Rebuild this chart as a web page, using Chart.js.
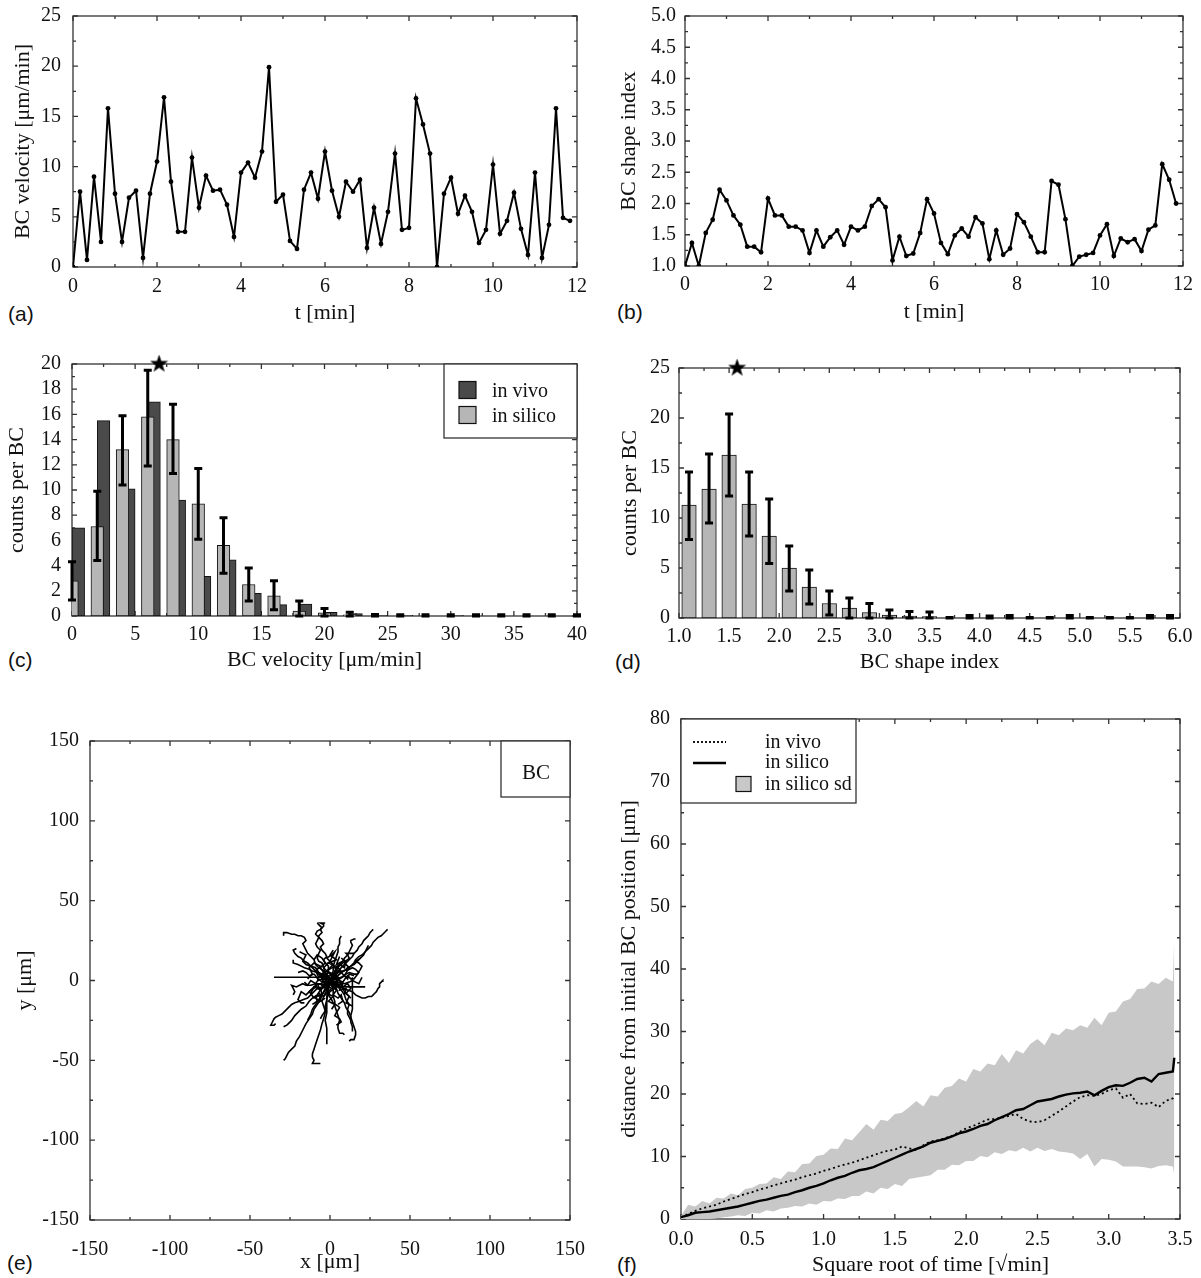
<!DOCTYPE html>
<html><head><meta charset="utf-8">
<script src="https://cdn.jsdelivr.net/npm/chart.js@4.4.1/dist/chart.umd.min.js"></script>
<style>
html,body{margin:0;padding:0;background:#fff;width:1201px;height:1278px;overflow:hidden;position:relative}
.lab{position:absolute;font-family:'Liberation Sans',Arial,sans-serif;font-size:21px;line-height:22px;color:#111}
</style></head><body>
<div class="lab" style="left:8px;top:303px">(a)</div>
<div class="lab" style="left:617px;top:301px">(b)</div>
<div class="lab" style="left:8px;top:649px">(c)</div>
<div class="lab" style="left:615px;top:651px">(d)</div>
<div class="lab" style="left:7px;top:1252px">(e)</div>
<div class="lab" style="left:617px;top:1254px">(f)</div>
<script>
// ---------------- DATA ----------------
// (a),(b) time samples [min]
const tMin = [0,0.167,0.333,0.5,0.667,0.833,1,1.167,1.333,1.5,1.667,1.833,2,2.167,2.333,2.5,2.667,2.833,3,3.167,3.333,3.5,3.667,3.833,4,4.167,4.333,4.5,4.667,4.833,5,5.167,5.333,5.5,5.667,5.833,6,6.167,6.333,6.5,6.667,6.833,7,7.167,7.333,7.5,7.667,7.833,8,8.167,8.333,8.5,8.667,8.833,9,9.167,9.333,9.5,9.667,9.833,10,10.167,10.333,10.5,10.667,10.833,11,11.167,11.333,11.5,11.667,11.833];
const velocity = [0,7.5,0.7,9.0,2.5,15.8,7.3,2.5,6.9,7.6,0.9,7.3,10.5,16.9,8.5,3.5,3.5,10.9,5.9,9.1,7.6,7.7,6.2,3.0,9.4,10.4,8.9,11.5,19.9,6.5,7.2,2.6,1.8,7.7,9.4,6.8,11.5,7.6,5.0,8.5,7.5,8.7,1.9,5.9,2.3,5.5,11.3,3.7,3.9,16.8,14.2,11.3,0,7.3,8.9,5.3,7.1,5.5,2.4,3.7,10.2,3.3,4.6,7.4,3.8,1.2,9.4,0.9,4.2,15.8,4.9,4.6];
const shapeIdx = [1.0,1.37,1.0,1.53,1.74,2.22,2.05,1.81,1.66,1.31,1.31,1.22,2.08,1.81,1.81,1.63,1.63,1.57,1.21,1.57,1.31,1.46,1.57,1.34,1.63,1.57,1.63,1.96,2.07,1.94,1.09,1.47,1.16,1.20,1.53,2.07,1.84,1.37,1.19,1.49,1.60,1.47,1.78,1.68,1.11,1.57,1.18,1.28,1.83,1.70,1.47,1.22,1.22,2.36,2.30,1.75,1.0,1.15,1.18,1.21,1.49,1.67,1.16,1.44,1.38,1.43,1.24,1.58,1.65,2.63,2.38,2.0];

// (c) velocity histogram
const velSilicoX  = [0,2,4,6,8,10,12,14,16,18,20,22,24,26,28,30,32,34,36,38,40];
const velSilicoY  = [2.8,7.1,13.2,15.8,14.0,8.9,5.6,2.5,1.6,0.4,0.25,0.1,0,0,0,0,0,0,0,0,0];
const velSilicoHi = [4.3,9.9,15.9,19.5,16.8,11.7,7.8,3.8,2.8,1.2,0.6,0.3,0.12,0.1,0.1,0.1,0.1,0.1,0.1,0.1,0.1];
const velSilicoLo = [1.27,4.4,10.4,11.9,11.3,6.1,3.4,1.2,0.5,0,0,0,0,0,0,0,0,0,0,0,0];
const velVivoX = [0.5,2.5,4.5,6.5,8.5,10.5,12.5,14.5,16.5,18.5,20.5,22.5,24.5,26.5,28.5,30.5,32.5,34.5,36.5,38.5];
const velVivoY = [7.0,15.5,10.1,17.0,9.2,3.15,4.45,1.8,0.9,0.95,0.3,0.2,0.06,0.05,0,0.06,0,0,0,0];
const velStar = [{x:6.9, y:20}];

// (d) shape index histogram
const shpX  = [1.1,1.3,1.5,1.7,1.9,2.1,2.3,2.5,2.7,2.9,3.1,3.3,3.5,3.7,3.9,4.1,4.3,4.5,4.7,4.9,5.1,5.3,5.5,5.7,5.9];
const shpY  = [11.3,12.9,16.3,11.4,8.2,5.0,3.1,1.45,1.0,0.55,0.28,0.2,0.15,0,0,0,0,0,0,0,0,0,0,0,0];
const shpHi = [14.6,16.4,20.4,14.6,11.9,7.2,4.8,2.7,2.0,1.45,0.8,0.65,0.6,0.05,0.25,0.2,0.25,0.05,0.05,0.25,0.05,0.05,0.05,0.25,0.25];
const shpLo = [7.85,9.5,12.2,8.2,5.45,2.7,1.4,0.3,0,0,0,0,0,0,0,0,0,0,0,0,0,0,0,0,0];
const shpStar = [{x:1.58, y:25}];

// (e) BC tracks [x0,y0,x1,y1,...] in um
const tracks = [
 [0,0,-1,2,-2,4,-1,6,-1,9,-3,11,-4,13,-2,15,-3,17,-5,19,-6,21,-4,23,-5,25,-7,27,-7,28,-5,30,-6,32,-4,34,-4,35,-6,36,-3,36],
 [0,0,-2,3,-3,5,-4,8,-5,11,-7,12,-8,14,-7,17,-6,19,-8,21,-9,23,-8,25,-7,27,-9,29,-8,31,-6,32,-5,33,-7,35,-8,36],
 [0,0,-2,3,-4,6,-7,8,-9,10,-10,13,-12,15,-14,17,-15,19,-16,21,-17,23,-15,25,-16,27,-18,28,-20,28,-22,29,-24,29,-27,30,-29,30,-29,28],
 [0,0,-3,2,-5,4,-7,5,-9,8,-12,9,-14,11,-16,12,-18,14,-20,15,-22,17,-23,19,-21,20],
 [0,0,-3,2,-6,3,-8,5,-11,6,-13,7,-16,8,-18,9,-20,10,-23,11,-23,13],
 [0,1,-4,2,-8,2,-12,2,-15,2,-18,2,-22,2,-26,2,-29,2,-32,2,-35,2],
 [0,0,-3,-1,-6,-2,-9,-2,-12,-3,-15,-3,-17,-2,-19,-3,-21,-4,-24,-3,-23,-5,-22,-7,-23,-9],
 [0,0,-3,-2,-5,-4,-8,-5,-10,-7,-12,-9,-14,-11,-17,-12,-19,-13,-22,-14,-24,-15,-26,-17,-28,-19,-30,-21,-32,-22,-34,-23,-35,-24,-36,-26,-37,-28,-35,-28,-34,-27],
 [0,0,-3,-3,-6,-6,-8,-9,-11,-11,-13,-13,-15,-16,-18,-18,-20,-20,-22,-22,-24,-25,-26,-27,-27,-28,-29,-29],
 [0,0,-2,-3,-3,-6,-5,-9,-6,-12,-8,-15,-10,-18,-11,-21,-13,-24,-15,-27,-17,-31,-19,-35,-21,-38,-22,-41,-24,-43,-26,-45,-27,-47,-28,-49,-29,-50],
 [0,0,-1,-4,-1,-8,-2,-12,-3,-16,-3,-20,-4,-24,-5,-27,-6,-31,-7,-34,-8,-37,-9,-40,-10,-43,-11,-46,-11,-48,-10,-50,-11,-52,-8,-52,-6,-52],
 [0,-2,-1,-6,-2,-10,-2,-15,-2,-20,-3,-25,-2,-30,-2,-35,-2,-40],
 [0,0,1,-3,2,-6,2,-10,3,-13,3,-16,4,-19,5,-22,6,-25,5,-28,5,-30,6,-33,8,-33,9,-34],
 [0,0,2,-3,4,-5,5,-8,7,-11,9,-14,10,-17,12,-20,13,-23,14,-26,15,-29,16,-32,16,-34,15,-37,13,-37,12,-38],
 [14,2,14,-3,14,-8,14,-13,14,-18,13,-22,13,-26,14,-29,14,-32],
 [0,0,3,-2,5,-4,7,-6,9,-9,10,-12,12,-15,11,-18,11,-21,12,-23,13,-25],
 [0,0,3,-1,6,-3,8,-5,11,-6,14,-7,16,-9,18,-10,20,-11,22,-11,24,-10,26,-10,27,-9,28,-8,29,-7,30,-5,31,-4,31,-2,32,-1,33,0,33,-1],
 [2,-3,5,-4,8,-4,11,-4,14,-4,17,-4,20,-4,22,-4],
 [0,0,3,1,5,3,7,5,9,6,11,8,13,9,15,11,16,13,18,15,20,16,22,18,24,20,26,22,27,24,29,26,30,27,32,28,33,29,35,31,36,32],
 [0,0,2,3,4,5,6,7,8,9,10,11,12,13,14,15,15,17,17,19,18,21,20,23,21,25,23,27,24,28,25,30,26,31,27,32],
 [0,0,2,3,3,5,5,8,6,10,8,12,9,14,11,16,12,18,13,20,14,22,13,24,13,25,15,26,16,26],
 [0,0,1,3,2,6,2,9,3,12,4,15,5,18,5,21,6,23,6,26,7,28],
 [0,0,3,2,6,4,8,6,11,7,13,9,15,10,17,12,19,14,21,16,22,18,23,20,24,22],
 [0,0,-3,5,0,8,2,10,-2,14,1,16,3,18,0,12,-4,8,1,3],
 [0,0,4,2,6,0,8,-1,10,2,11,3,13,1,15,1,18,5,16,7,14,8,10,6],
 [0,0,-2,-3,-4,-4,-6,-2,-8,-2,-10,-5,-12,-6,-15,-9,-18,-7,-20,-12,-18,-14,-16,-14],
 [0,0,3,-5,0,-7,-1,-9,1,-12,2,-14,5,-16,6,-17,4,-20,3,-22,6,-24,7,-26,4,-28],
 [0,0,-3,2,-5,1,-7,0,-9,3,-10,4,-13,3,-15,5,-17,6,-20,5],
 [0,0,2,4,4,8,7,10,8,11,11,13,12,14,11,16,10,17,13,17,15,17],
 [0,0,-3,-5,-5,-9,-7,-12,-9,-15,-11,-18,-12,-21,-14,-25],
 [0,0,4,1,7,2,10,4,12,5,15,4,17,4,19,7,20,9,18,11,16,12,19,14],
 [0,0,-1,-3,-2,-6,-4,-10,-5,-13,-4,-16,-3,-19,-5,-22,-6,-24],
 [0,0,-4,2,-8,5,-10,7,-12,9,-15,10,-17,12,-16,14,-15,16,-17,17,-19,18],
 [0,0,5,-1,9,-2,12,-1,14,0,16,-1,18,-2,19,0,20,2],
 [0,0,2,4,-2,6,3,9,-1,11,4,13,0,16,2,19],
 [0,0,-3,-2,1,-5,-2,-8,2,-10,-1,-13,3,-15,1,-18],
 [0,0,5,1,3,-3,8,-2,6,-6,10,-5,9,-9],
 [0,0,-5,1,-3,-3,-8,-2,-6,-6,-10,-4,-12,-8],
 [0,0,3,3,-1,5,-4,3,-2,-1,2,-2,5,0,3,4,7,6,4,9],
 [0,0,-2,2,2,4,5,2,3,-2,-1,-3,-4,-1,-6,3,-3,6],
 [0,0,6,6,9,3,12,8,8,12,4,10,6,15],
 [0,0,-6,-6,-9,-3,-13,-7,-10,-11,-6,-9,-7,-14],
 [0,0,4,-4,7,-2,9,-7,12,-10,10,-14,14,-16],
 [0,0,-4,4,-7,2,-9,6,-6,9,-10,11,-13,8,-11,4,-14,1],
 [0,0,3,-3,6,-1,8,-4,11,-2,13,-5,10,-8,13,-11],
 [0,0,-2,-4,-6,-5,-5,-9,-9,-10,-8,-13,-11,-15],
 [0,0,2,2,5,5,3,8,6,10,9,8,10,12,7,14],
 [0,0,-1,3,-4,5,-6,8,-3,11,-5,14,-8,16,-10,13],
 [0,0,1,-3,4,-6,2,-9,5,-11,7,-9,8,-13,5,-15],
 [-2,0,-5,-1,-7,1,-9,-2,-12,0,-14,-3,-16,-1],
 [1,1,4,3,6,1,9,3,11,1,12,4,15,3],
 [0,0,-3,-4,-1,-7,-4,-10,-7,-8,-9,-11,-6,-13,-3,-11]
];

// (f) distance vs sqrt(time)
const fX = [0,0.05,0.1,0.15,0.2,0.25,0.3,0.35,0.4,0.45,0.5,0.55,0.6,0.65,0.7,0.75,0.8,0.85,0.9,0.95,1.0,1.05,1.1,1.15,1.2,1.25,1.3,1.35,1.4,1.45,1.5,1.55,1.6,1.65,1.7,1.75,1.8,1.85,1.9,1.95,2.0,2.05,2.1,2.15,2.2,2.25,2.3,2.35,2.4,2.45,2.5,2.55,2.6,2.65,2.7,2.75,2.8,2.85,2.9,2.95,3.0,3.05,3.1,3.15,3.2,3.25,3.3,3.35,3.4,3.45,3.46];
const fSilico = [0.3,0.6,1.0,1.1,1.2,1.4,1.6,1.8,2.0,2.3,2.6,2.9,3.1,3.4,3.7,3.9,4.3,4.6,5.0,5.3,5.7,6.2,6.6,6.9,7.4,7.8,8.0,8.3,8.8,9.3,9.8,10.3,10.8,11.2,11.6,12.2,12.5,12.8,13.2,13.7,14.0,14.4,14.9,15.2,15.8,16.3,16.8,17.4,17.6,18.2,18.8,19.0,19.2,19.6,19.9,20.1,20.2,20.4,19.8,20.5,21.1,21.4,21.3,21.8,22.4,22.6,22.0,23.2,23.4,23.6,25.8];
const fVivo = [0.3,0.8,1.3,1.7,2.0,2.3,2.8,3.2,3.6,4.0,4.3,4.7,5.0,5.4,5.7,6.0,6.3,6.7,7.0,7.3,7.7,8.0,8.4,8.7,9.0,9.4,9.8,10.2,10.6,10.9,11.1,11.6,11.3,11.0,11.8,12.4,12.6,12.9,13.3,13.9,14.5,14.9,15.4,15.9,16.0,16.2,16.5,16.8,16.0,15.6,15.5,15.8,16.5,17.2,18.0,18.8,19.5,19.8,19.7,20.0,20.6,20.9,19.4,20.0,18.5,18.4,18.6,17.9,18.9,19.3,19.8];
const fUpper = [0.5,2.3,2.0,2.9,2.5,3.4,3.3,4.1,3.8,4.8,5.0,5.6,5.7,6.7,6.4,7.6,7.5,8.8,8.9,10.1,10.3,11.3,11.2,12.9,12.6,13.9,15.2,14.3,15.9,15.7,16.8,17.0,17.9,18.9,18.0,19.8,19.6,21.0,21.3,22.5,22.0,24.0,23.6,24.9,24.6,26.4,25.0,27.0,26.5,28.0,28.8,27.8,29.8,29.4,30.5,30.2,31.0,30.6,32.2,31.0,33.0,33.2,34.8,35.2,36.8,36.9,38.0,37.6,38.6,38.0,44.8];
const fLower = [0,0,0,0,0,0.1,0.3,0.4,0.6,0.5,1.0,0.9,1.4,1.2,1.7,1.8,2.1,2.0,2.5,2.3,2.9,2.8,3.3,3.2,3.7,3.7,4.4,4.1,5.0,4.8,5.6,5.3,6.4,6.6,6.8,7.0,7.9,7.9,8.7,8.6,9.3,9.3,10.1,9.9,10.7,10.4,11.0,10.8,11.4,10.8,11.4,10.9,11.2,10.8,10.7,10.5,9.6,10.4,8.4,9.6,9.5,9.2,8.4,8.4,8.4,8.3,8.1,8.5,8.6,8.4,7.0];

// ---------------- STYLE / LAYOUT ----------------
const FONT = "'Liberation Serif','Times New Roman',serif";
Chart.defaults.font.family = FONT;
Chart.defaults.color = '#111';
const TS = 20, TT = 22;
const SIL = '#b6b6b6', VIV = '#4a4a4a', BAND = '#c8c8c8', FRAME = '#333';
const PADT = 40, PADR = 45;

const G = {
 a:{pl:73,pt:16,pr:577,pb:267,ytx:23,xty:313,xtk:287,ylr:61},
 b:{pl:685,pt:16,pr:1183,pb:266,ytx:629,xty:312,xtk:285,ylr:676},
 c:{pl:72,pt:364,pr:577,pb:616,ytx:17,xty:660,xtk:635,ylr:61},
 d:{pl:679,pt:368,pr:1180,pb:618,ytx:630,xty:662,xtk:637,ylr:670},
 e:{pl:90,pt:741,pr:570,pb:1220,ytx:25,xty:1262,xtk:1250,ylr:79},
 f:{pl:681,pt:719,pr:1180,pb:1219,ytx:629,xty:1265,xtk:1240,ylr:670}
};

function framePlugin(xMaj, yMaj) {
  return { id:'frame', beforeDatasetsDraw(chart) {
    const {ctx, chartArea:a, scales:{x, y}} = chart;
    ctx.save(); ctx.strokeStyle = FRAME; ctx.lineWidth = 1.3;
    const near = (v, s) => Math.abs(v/s - Math.round(v/s)) < 1e-6;
    const xm = xMaj/2, ym = yMaj/2;
    ctx.beginPath();
    for (let v = x.min; v <= x.max + 1e-9; v += xm) {
      const p = x.getPixelForValue(v), L = near(v - x.min, xMaj) ? 5 : 3;
      ctx.moveTo(p, a.bottom); ctx.lineTo(p, a.bottom - L);
      ctx.moveTo(p, a.top); ctx.lineTo(p, a.top + L);
    }
    for (let v = y.min; v <= y.max + 1e-9; v += ym) {
      const p = y.getPixelForValue(v), L = near(v - y.min, yMaj) ? 5 : 3;
      ctx.moveTo(a.left, p); ctx.lineTo(a.left + L, p);
      ctx.moveTo(a.right, p); ctx.lineTo(a.right - L, p);
    }
    ctx.stroke();
    ctx.strokeRect(a.left, a.top, a.right - a.left, a.bottom - a.top);
    ctx.restore();
  }};
}
function errPlugin(xs, lo, hi, lw, cap) {
  return { id:'errBars', afterDatasetsDraw(chart) {
    const {ctx, scales:{x, y}} = chart;
    ctx.save(); ctx.strokeStyle = '#000'; ctx.lineWidth = lw;
    ctx.beginPath();
    for (let i = 0; i < xs.length; i++) {
      const px = x.getPixelForValue(xs[i]), ph = y.getPixelForValue(hi[i]), pl = y.getPixelForValue(lo[i]);
      ctx.moveTo(px, ph); ctx.lineTo(px, pl);
      ctx.moveTo(px - cap, ph); ctx.lineTo(px + cap, ph);
      ctx.moveTo(px - cap, pl); ctx.lineTo(px + cap, pl);
    }
    ctx.stroke(); ctx.restore();
  }};
}
function legendPlugin(spec) {
  return { id:'boxLegend', afterDraw(chart) {
    const {ctx, chartArea:a} = chart;
    const x0 = spec.anchor === 'left' ? a.left : a.right - spec.w, y0 = a.top;
    ctx.save();
    ctx.fillStyle = '#fff'; ctx.fillRect(x0, y0, spec.w, spec.h);
    ctx.strokeStyle = FRAME; ctx.lineWidth = 1.3; ctx.strokeRect(x0, y0, spec.w, spec.h);
    ctx.font = spec.size + 'px ' + FONT; ctx.textBaseline = 'middle';
    for (const it of spec.items) {
      if (it.kind === 'rect') {
        ctx.fillStyle = it.fill; ctx.fillRect(x0 + it.x, y0 + it.y - it.s/2, it.s, it.s);
        ctx.strokeStyle = '#111'; ctx.lineWidth = 1.2; ctx.strokeRect(x0 + it.x, y0 + it.y - it.s/2, it.s, it.s);
      } else if (it.kind === 'line') {
        ctx.strokeStyle = '#000'; ctx.lineWidth = it.lw; ctx.setLineDash(it.dash || []);
        ctx.beginPath(); ctx.moveTo(x0 + it.x, y0 + it.y); ctx.lineTo(x0 + it.x + it.len, y0 + it.y); ctx.stroke();
        ctx.setLineDash([]);
      }
      if (it.text) { ctx.fillStyle = '#111'; ctx.textAlign = it.align || 'left'; ctx.fillText(it.text, x0 + it.tx, y0 + it.ty); }
    }
    ctx.restore();
  }};
}
function starImg(s) {
  const c = document.createElement('canvas'); c.width = c.height = s;
  const g = c.getContext('2d'); g.fillStyle = '#000'; g.beginPath();
  for (let i = 0; i < 10; i++) {
    const r = i % 2 ? s*0.2 : s*0.5, an = -Math.PI/2 + i*Math.PI/5;
    g.lineTo(s/2 + r*Math.cos(an), s/2 + r*Math.sin(an));
  }
  g.closePath(); g.fill(); return c;
}

function panel(key, cfg, xs, ys, extra) {
  const g = G[key];
  const tickHalf = TS*1.2/2, titleOff = TT*1.2/2 + 4;
  const left = Math.round(g.ytx - titleOff), top = g.pt - PADT, right = g.pr + PADR, bottom = Math.round(g.xty + titleOff);
  const cv = document.createElement('canvas');
  cv.width = right - left; cv.height = bottom - top;
  cv.style.cssText = 'position:absolute;left:'+left+'px;top:'+top+'px;width:'+(right-left)+'px;height:'+(bottom-top)+'px';
  document.body.appendChild(cv);
  const yW = g.pl - left, xH = bottom - g.pb;
  const fmt = d => (v => d ? Number(v).toFixed(d) : String(Math.round(v)));
  cfg.options = Object.assign({
    responsive:false, animation:false, events:[],
    layout:{padding:{left:0, top:PADT, right:PADR, bottom:0}},
    plugins:{legend:{display:false}, tooltip:{enabled:false}},
    scales:{
      x:{type:'linear', position:'bottom', min:xs.min, max:xs.max, offset:false,
         grid:{display:false, drawTicks:false}, border:{display:false},
         ticks:{stepSize:xs.step, padding:g.xtk - g.pb - tickHalf, font:{size:TS}, maxRotation:0, autoSkip:false, callback:fmt(xs.dec)},
         title:{display:true, text:xs.title, font:{size:TT}, padding:{top:4, bottom:4}},
         afterFit(s){ s.height = xH; }},
      y:{type:'linear', position:'left', min:ys.min, max:ys.max,
         grid:{display:false, drawTicks:false}, border:{display:false},
         ticks:{stepSize:ys.step, padding:g.pl - g.ylr, font:{size:TS}, autoSkip:false, callback:fmt(ys.dec)},
         title:{display:true, text:ys.title, font:{size:TT}, padding:{top:4, bottom:4}},
         afterFit(s){ s.width = yW; }}
    }
  }, cfg.options || {});
  cfg.plugins = [framePlugin(xs.step, ys.step)].concat(extra || []);
  return new Chart(cv, cfg);
}

const pts = (xa, ya) => xa.map((x, i) => ({x, y: ya[i]}));

// (a)
panel('a', {type:'line', data:{datasets:[{data:pts(tMin, velocity), borderColor:'#000', borderWidth:2, pointRadius:2.4, pointBackgroundColor:'#000', pointBorderWidth:0, tension:0}]}},
  {min:0, max:12, step:2, title:'t [min]'}, {min:0, max:25, step:5, title:'BC velocity [\u03bcm/min]'});
// (b)
panel('b', {type:'line', data:{datasets:[{data:pts(tMin, shapeIdx), borderColor:'#000', borderWidth:2, pointRadius:2.4, pointBackgroundColor:'#000', pointBorderWidth:0, tension:0}]}},
  {min:0, max:12, step:2, title:'t [min]'}, {min:1, max:5, step:0.5, dec:1, title:'BC shape index'});
// (c)
panel('c', {type:'bar', data:{datasets:[
    {label:'in silico', data:pts(velSilicoX, velSilicoY), backgroundColor:SIL, borderColor:'#111', borderWidth:1, barThickness:12.6, grouped:false, borderSkipped:false},
    {label:'in vivo', data:pts(velVivoX, velVivoY), backgroundColor:VIV, borderColor:'#111', borderWidth:1, barThickness:12.6, grouped:false, borderSkipped:false},
    {type:'line', data:velStar, showLine:false, pointStyle:starImg(19), pointRadius:9, clip:false}
  ]}},
  {min:0, max:40, step:5, title:'BC velocity [\u03bcm/min]'}, {min:0, max:20, step:2, title:'counts per BC'},
  [errPlugin(velSilicoX, velSilicoLo, velSilicoHi, 3, 4),
   legendPlugin({anchor:'right', w:133, h:74, size:20, items:[
     {kind:'rect', fill:VIV, x:15, y:26, s:17, text:'in vivo', tx:48, ty:28},
     {kind:'rect', fill:SIL, x:15, y:51, s:17, text:'in silico', tx:48, ty:53}]})]);
// (d)
panel('d', {type:'bar', data:{datasets:[
    {label:'in silico', data:pts(shpX, shpY), backgroundColor:SIL, borderColor:'#111', borderWidth:1, barThickness:14.5, grouped:false, borderSkipped:false},
    {type:'line', data:shpStar, showLine:false, pointStyle:starImg(19), pointRadius:9, clip:false}
  ]}},
  {min:1, max:6, step:0.5, dec:1, title:'BC shape index'}, {min:0, max:25, step:5, title:'counts per BC'},
  [errPlugin(shpX, shpLo, shpHi, 3, 4)]);
// (e)
panel('e', {type:'line', data:{datasets: tracks.map(tr => {
    const d = []; for (let i = 0; i < tr.length; i += 2) d.push({x:tr[i], y:tr[i+1]});
    return {data:d, borderColor:'#000', borderWidth:1.6, pointRadius:0, tension:0};
  })}},
  {min:-150, max:150, step:50, title:'x [\u03bcm]'}, {min:-150, max:150, step:50, title:'y [\u03bcm]'},
  [legendPlugin({anchor:'right', w:69, h:56, size:21, items:[{kind:'none', text:'BC', tx:35, ty:32, align:'center'}]})]);
// (f)
panel('f', {type:'line', data:{datasets:[
    {data:pts(fX, fSilico), borderColor:'#000', borderWidth:2.4, pointRadius:0, tension:0},
    {data:pts(fX, fVivo), borderColor:'#000', borderWidth:1.8, borderDash:[2,3], pointRadius:0, tension:0},
    {data:pts(fX, fUpper), borderWidth:0, borderColor:BAND, backgroundColor:BAND, fill:'+1', pointRadius:0, tension:0},
    {data:pts(fX, fLower), borderWidth:0, borderColor:BAND, pointRadius:0, fill:false, tension:0}
  ]}},
  {min:0, max:3.5, step:0.5, dec:1, title:'Square root of time [\u221Amin]'}, {min:0, max:80, step:10, title:'distance from initial BC position [\u03bcm]'},
  [legendPlugin({anchor:'left', w:175, h:84, size:20, items:[
     {kind:'line', x:12, y:23, len:33, lw:1.8, dash:[2,2], text:'in vivo', tx:84, ty:24},
     {kind:'line', x:12, y:44, len:33, lw:2.6, text:'in silico', tx:84, ty:44},
     {kind:'rect', fill:BAND, x:55, y:65, s:15, text:'in silico sd', tx:84, ty:66}]})]);
</script>
</body></html>
